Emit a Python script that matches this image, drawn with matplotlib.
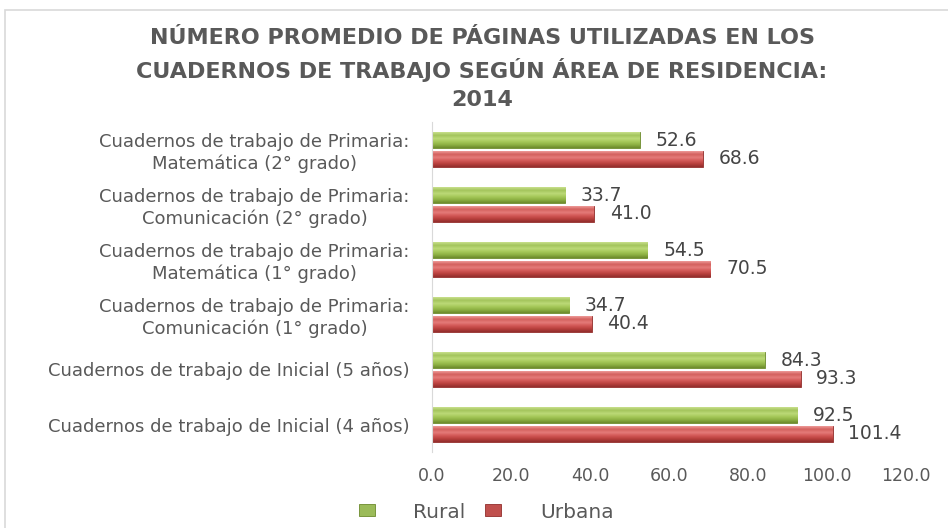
import numpy as np
import matplotlib.pyplot as plt
from matplotlib.patches import Rectangle
from matplotlib.colors import LinearSegmentedColormap

categorias = [
    'Cuadernos de trabajo de Inicial (4 años)',
    'Cuadernos de trabajo de Inicial (5 años)',
    'Cuadernos de trabajo de Primaria:\nComunicación (1° grado)',
    'Cuadernos de trabajo de Primaria:\nMatemática (1° grado)',
    'Cuadernos de trabajo de Primaria:\nComunicación (2° grado)',
    'Cuadernos de trabajo de Primaria:\nMatemática (2° grado)',
]
rural = [92.5, 84.3, 34.7, 54.5, 33.7, 52.6]
urbana = [101.4, 93.3, 40.4, 70.5, 41.0, 68.6]
xticks = [0, 20, 40, 60, 80, 100, 120]

titulo = ['NÚMERO PROMEDIO DE PÁGINAS UTILIZADAS EN LOS',
          'CUADERNOS DE TRABAJO SEGÚN ÁREA DE RESIDENCIA:',
          '2014']

gris = '#595959'
verde = '#9bbb59'
rojo = '#c0504d'
# degradados de abajo hacia arriba
grad_verde = LinearSegmentedColormap.from_list(
    'gv', ['#6c8a2c', '#8db043', '#a6c95a', '#bcd978', '#a3c45c', '#c8e08c'])
grad_rojo = LinearSegmentedColormap.from_list(
    'gr', ['#922e2c', '#b8403d', '#d25856', '#e57b79', '#d3605d', '#ee9a98'])

fig = plt.figure(figsize=(9.48, 5.28), dpi=100)
fig.patches.append(Rectangle((5 / 948, -0.05), 1.1, 1 - 10 / 528 + 0.05,
                             transform=fig.transFigure, fill=False,
                             edgecolor='#d9d9d9', linewidth=1.2))

ax = fig.add_axes([432 / 948, 1 - 452 / 528, (906 - 432) / 948, 330 / 528])

y = np.arange(len(categorias))
h = 0.29
b1 = ax.barh(y + h / 2 + 0.02, rural, height=h, color=verde,
             edgecolor='#6c8a2c', linewidth=0.6, label='Rural')
b2 = ax.barh(y - h / 2 - 0.02, urbana, height=h, color=rojo,
             edgecolor='#922e2c', linewidth=0.6, label='Urbana')

grad = np.linspace(0, 1, 64).reshape(-1, 1)
for bars, cmap in ((b1, grad_verde), (b2, grad_rojo)):
    for r in bars:
        x0, y0 = r.get_x(), r.get_y()
        w, hh = r.get_width(), r.get_height()
        ax.imshow(grad, cmap=cmap, origin='lower', aspect='auto',
                  extent=(x0, x0 + w, y0, y0 + hh), zorder=2.5,
                  interpolation='bilinear')
        v = r.get_width()
        ax.text(v + 4, y0 + hh / 2, f'{v:.1f}', va='center', ha='left',
                fontsize=13.5, color='#454545')

ax.set_xlim(0, 120)
ax.set_ylim(-0.5, len(categorias) - 0.5)
ax.set_xticks(xticks)
ax.set_xticklabels([f'{v:.1f}' for v in xticks])
ax.set_yticks(y)
ax.set_yticklabels(categorias, multialignment='center', fontsize=13)
ax.tick_params(axis='both', length=0, colors=gris)
ax.tick_params(axis='x', labelsize=12.5, pad=11)
ax.tick_params(axis='y', pad=16)
for s in ('top', 'right', 'bottom'):
    ax.spines[s].set_visible(False)
ax.spines['left'].set_color('#d9d9d9')

for linea, ypx in zip(titulo, [38, 70, 100]):
    fig.text(482 / 948, 1 - ypx / 528, linea, ha='center', va='center',
             fontsize=16, fontweight='bold', color=gris,
             family='DejaVu Sans')

fig.legend(handles=[b1, b2], labels=['Rural', 'Urbana'], loc='center',
           bbox_to_anchor=(486 / 948, 1 - 512 / 528), ncol=2, frameon=False,
           fontsize=14.5, labelcolor=gris, handlelength=0.8, handleheight=0.55,
           columnspacing=1.0, handletextpad=1.9)

fig.savefig('out.png', dpi=100)
